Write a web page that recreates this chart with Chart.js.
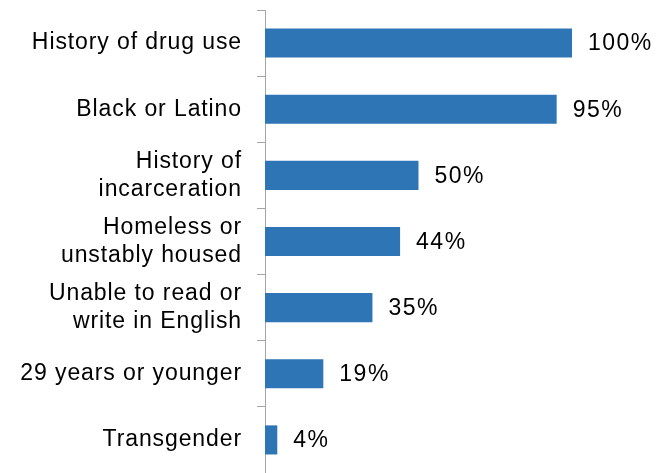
<!DOCTYPE html>
<html>
<head>
<meta charset="utf-8">
<script src="https://cdn.jsdelivr.net/npm/chart.js@4"></script>
<style>
  html, body { margin: 0; padding: 0; background: #fff; }
  #wrap { width: 670px; height: 473px; position: relative; }
</style>
</head>
<body>
<div id="wrap"><canvas id="barChart"></canvas></div>
<script>
const categories = [
    'History of drug use',
    'Black or Latino',
    ['History of', 'incarceration'],
    ['Homeless or', 'unstably housed'],
    ['Unable to read or', 'write in English'],
    '29 years or younger',
    'Transgender'
];
const percentValues = [100, 95, 50, 44, 35, 19, 4];

const labelFont = { family: '"Liberation Sans", Arial, sans-serif', size: 23, lineHeight: 1.22 };

// wider letter spacing, closer to the original typeface
const spacing = {
    id: 'spacing',
    beforeDraw(chart) {
        chart.ctx.letterSpacing = '0.9px';
    }
};

// draws the "NN%" text to the right of each bar
const valueLabels = {
    id: 'valueLabels',
    afterDatasetsDraw(chart) {
        const ctx = chart.ctx;
        const meta = chart.getDatasetMeta(0);
        ctx.save();
        ctx.letterSpacing = '1.5px';
        ctx.font = `23px ${labelFont.family}`;
        ctx.fillStyle = '#000';
        ctx.textAlign = 'left';
        ctx.textBaseline = 'middle';
        meta.data.forEach((bar, i) => {
            ctx.fillText(percentValues[i] + '%', bar.x + 16, bar.y + 1);
        });
        ctx.restore();
    }
};

const ctx = document.getElementById('barChart').getContext('2d');
new Chart(ctx, {
    type: 'bar',
    data: {
        labels: categories,
        datasets: [{
            data: percentValues,
            backgroundColor: '#2E75B6',
            borderWidth: 0,
            categoryPercentage: 1,
            barPercentage: 0.44
        }]
    },
    options: {
        indexAxis: 'y',
        responsive: true,
        maintainAspectRatio: false,
        animation: false,
        layout: { padding: { top: 10, right: 98, bottom: 0, left: 0 } },
        plugins: {
            legend: { display: false },
            tooltip: { enabled: false }
        },
        scales: {
            x: {
                display: false,
                min: 0,
                max: 100
            },
            y: {
                afterFit(scale) {
                    scale.width = 265;
                    scale.paddingTop = 0;
                    scale.paddingBottom = 0;
                },
                border: { display: true, color: '#a6a6a6', width: 1 },
                grid: {
                    offset: true,
                    drawOnChartArea: false,
                    drawTicks: true,
                    tickLength: 8,
                    color: '#a6a6a6'
                },
                ticks: {
                    color: '#000',
                    font: labelFont,
                    padding: 15,
                    autoSkip: false
                }
            }
        }
    },
    plugins: [spacing, valueLabels]
});
</script>
</body>
</html>
